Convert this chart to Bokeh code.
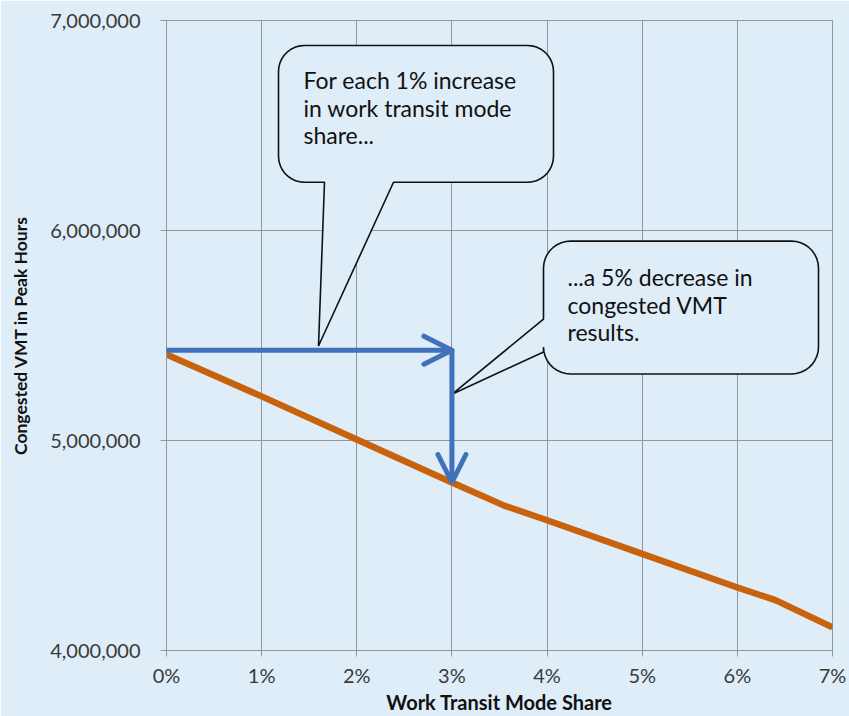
import numpy as np
from bokeh.plotting import figure
from bokeh.models import (Arrow, OpenHead, PrintfTickFormatter, NumeralTickFormatter,
                          FixedTicker, Range1d)
from bokeh.core.properties import value
from bokeh.embed import file_html
from bokeh.resources import INLINE

# ---------------- data ----------------
share_pct = [0, 1, 2, 3, 3.55, 4, 5, 6, 6.4, 7]
congested_vmt = [5410000, 5210000, 5005000, 4800000, 4690000, 4620000, 4460000, 4300000, 4240000, 4110000]

x_ticks = [0, 1, 2, 3, 4, 5, 6, 7]
y_ticks = [4000000, 5000000, 6000000, 7000000]

arrow_start_x = 0
arrow_corner_x = 3
arrow_level_y = 5430000
arrow_end_y = 4800000

callout1_lines = ["For each 1% increase", "in work transit mode", "share..."]
callout2_lines = ["...a 5% decrease in", "congested VMT", "results."]

# ---------------- style ----------------
BG = "#DEEDF8"
GRID = "#8E979E"
ORANGE = "#C8620C"
BLUE = "#3F72B8"
FONT = "Lato"

W, H = 849, 716
L, R, T, B = 166, 832, 20, 651

p = figure(width=W, height=H, output_backend="svg", toolbar_location=None,
           x_range=Range1d(0, 7), y_range=Range1d(4000000, 7000000),
           min_border_left=L, min_border_right=W - R, min_border_top=T,
           min_border_bottom=H - B)
p.background_fill_color = BG
p.border_fill_color = BG
p.outline_line_color = GRID
p.outline_line_width = 1

p.xgrid.grid_line_color = GRID
p.ygrid.grid_line_color = GRID
p.xaxis.ticker = FixedTicker(ticks=x_ticks)
p.yaxis.ticker = FixedTicker(ticks=y_ticks)
p.xaxis.formatter = PrintfTickFormatter(format="%d%%")
p.yaxis.formatter = NumeralTickFormatter(format="0,0")

for ax in (p.xaxis, p.yaxis):
    ax.axis_line_color = GRID
    ax.major_tick_line_color = GRID
    ax.major_tick_out = 6
    ax.major_tick_in = 0
    ax.minor_tick_line_color = None
    ax.major_label_text_font = FONT
    ax.major_label_text_font_size = "20px"
    ax.major_label_text_color = "#3A3A3A"
    ax.axis_label_text_font = FONT
    ax.axis_label_text_font_style = "bold"
    ax.axis_label_text_color = "#111111"

p.xaxis.axis_label = "Work Transit Mode Share"
p.xaxis.axis_label_text_font_size = "20px"
p.xaxis.major_label_standoff = 6
p.xaxis.axis_label_standoff = 0
p.yaxis.axis_label = "Congested VMT in Peak Hours"
p.yaxis.axis_label_text_font_size = "17.5px"
p.yaxis.major_label_standoff = 20
p.yaxis.axis_label_standoff = 16

# main line
p.line(share_pct, congested_vmt, line_color=ORANGE, line_width=6.5, line_join="round")

# ---------------- callouts (pixel-placed annotation shapes) ----------------
def px_x(px):
    return (px - L) / (R - L) * 7.0

def px_y(py):
    return 7000000 - (py - T) / (B - T) * 3000000

def arc(cx, cy, r, a0, a1, n=10):
    a = np.radians(np.linspace(a0, a1, n))
    return list(zip(cx + r * np.cos(a), cy + r * np.sin(a)))

def callout(l, t, r_, b, rad, bottom_tail=None, left_tail=None):
    pts = []
    pts += arc(l + rad, t + rad, rad, 180, 270)
    pts += arc(r_ - rad, t + rad, rad, 270, 360)
    pts += arc(r_ - rad, b - rad, rad, 0, 90)
    if bottom_tail:
        pts += bottom_tail
    pts += arc(l + rad, b - rad, rad, 90, 180)
    if left_tail:
        pts += left_tail
    xs = [px_x(a) for a, _ in pts]
    ys = [px_y(c) for _, c in pts]
    return xs, ys

c1x, c1y = callout(278, 45, 553, 182, 26,
                   bottom_tail=[(393, 182), (318, 346), (324, 182)])
c2x, c2y = callout(543, 241, 818, 374, 27,
                   left_tail=[(543, 352), (452, 394), (543, 319)])
p.patches([c1x, c2x], [c1y, c2y], fill_color=BG, line_color="#111111", line_width=1.6)

for i, s in enumerate(callout1_lines):
    p.text(x=[px_x(303)], y=[px_y(80 + 27.5 * i)], text=[s], text_font=value(FONT),
           text_font_size="23px", text_color="#111111", text_baseline="alphabetic")
for i, s in enumerate(callout2_lines):
    p.text(x=[px_x(567)], y=[px_y(277 + 27.5 * i)], text=[s], text_font=value(FONT),
           text_font_size="23px", text_color="#111111", text_baseline="alphabetic")

# ---------------- blue arrows ----------------
p.add_layout(Arrow(end=OpenHead(size=28, line_color=BLUE, line_width=5, line_cap="round"),
                   x_start=arrow_start_x, y_start=arrow_level_y,
                   x_end=arrow_corner_x, y_end=arrow_level_y,
                   line_color=BLUE, line_width=5, line_cap="round"))
p.add_layout(Arrow(end=OpenHead(size=28, line_color=BLUE, line_width=5, line_cap="round"),
                   x_start=arrow_corner_x, y_start=arrow_level_y,
                   x_end=arrow_corner_x, y_end=arrow_end_y,
                   line_color=BLUE, line_width=5, line_cap="round"))

open("out.html", "w").write(file_html(p, INLINE))
